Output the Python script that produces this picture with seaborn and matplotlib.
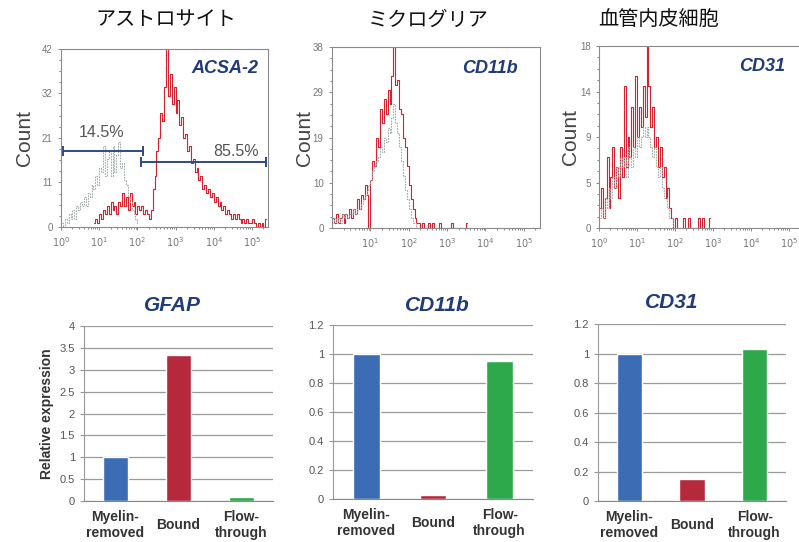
import numpy as np
import pandas as pd
import seaborn as sns
import matplotlib.pyplot as plt
from matplotlib.ticker import AutoMinorLocator, LogLocator, NullFormatter

sns.set_style('ticks')
plt.rcParams['font.family'] = ['Liberation Sans', 'Noto Sans CJK JP', 'DejaVu Sans']

#----------------------------------------------------------
# Flow cytometry histograms (counts per log10 channel bin)
cell_titles = ['アストロサイト', 'ミクログリア', '血管内皮細胞']
surface_markers = ['ACSA-2', 'CD11b', 'CD31']
bin_step = 0.05

acsa_red_start = 0.85
acsa_red = [1, 2, 1, 3, 2, 4, 3, 5, 3, 6, 4, 5, 3, 6, 5, 8, 5, 7, 4, 8,
            5, 6, 3, 5, 4, 5, 3, 4, 3, 2, 4, 9, 12, 18, 21, 27, 25, 33, 42,
            31, 36, 29, 33, 27, 30, 24, 26, 21, 22, 18, 19, 15, 16, 13, 14, 11, 12, 9, 10,
            8, 9, 7, 8, 6, 7, 5, 6, 4, 5, 3, 4, 3, 2, 3, 2, 3, 2, 1, 2,
            1, 2, 1, 1, 2, 1, 0, 1, 0, 1, 0, 2]
acsa_gray_start = 0.0
acsa_gray = [1, 0, 2, 1, 3, 2, 4, 2, 5, 4, 6, 5, 7, 5, 8, 7, 10, 9, 12, 10,
             14, 13, 19, 12, 16, 18, 12, 19, 13, 17, 20, 14, 15, 11, 10, 7, 6, 4, 3, 2, 1]

cd11b_red_start = 0.0
cd11b_red = [2, 1, 3, 1, 2, 3, 1, 3, 2, 4, 2, 4, 3, 6, 4, 7, 6, 9, 7, 0,
             10, 14, 13, 19, 17, 25, 22, 27, 24, 29, 26, 32, 38, 30, 31, 25, 24, 19, 17, 13,
             9, 6, 4, 2, 1, 1, 0, 1, 0, 0, 1, 0, 1, 0, 0, 0, 1, 0, 0, 0,
             0, 0, 1, 0, 0, 0, 0, 0, 0, 0, 1]
cd11b_gray_start = 0.0
cd11b_gray = [1, 2, 1, 2, 1, 3, 2, 3, 2, 3, 3, 4, 3, 4, 4, 5, 6, 7, 8, 9,
              10, 12, 13, 14, 15, 17, 16, 19, 18, 21, 20, 23, 26, 22, 20, 17, 14, 11, 8, 6,
              4, 2, 1, 1, 0]

cd31_red_start = 0.0
cd31_red = [2, 4, 1, 3, 7, 2, 5, 8, 4, 6, 3, 8, 5, 14, 6, 9, 7, 12, 8, 15,
            9, 12, 10, 14, 11, 18, 14, 10, 12, 8, 9, 6, 8, 5, 6, 3, 4, 2, 1, 0,
            1, 0, 0, 0, 1, 0, 0, 1, 0, 0, 0, 0, 1, 0, 1, 0, 0, 0, 1]
cd31_gray_start = 0.0
cd31_gray = [1, 2, 1, 3, 2, 4, 3, 5, 4, 6, 5, 7, 6, 7, 5, 8, 7, 6, 8, 7,
             9, 8, 9, 10, 9, 10, 9, 8, 7, 8, 6, 5, 6, 4, 3, 3, 2, 1, 1, 0]

count_max = [42, 38, 18]
count_ticklabels = [['0', '11', '21', '32', '42'],
                    ['0', '10', '19', '29', '38'],
                    ['0', '5', '9', '14', '18']]
decade_ticks = [[0, 1, 2, 3, 4, 5], [1, 2, 3, 4, 5], [0, 1, 2, 3, 4, 5]]

# ACSA-2 gates
gate_lo = [1.1, 126]
gate_hi = [138, 234000]
gate_y = [17.9, 15.3]
gate_pct = ['14.5%', '85.5%']
pct_x = [11.7, 38000]
pct_y = [22.2, 17.9]

#----------------------------------------------------------
# qPCR relative expression
genes = ['GFAP', 'CD11b', 'CD31']
fractions = ['Myelin-\nremoved', 'Bound', 'Flow-\nthrough']
gfap_expr = [1.0, 3.33, 0.1]
cd11b_expr = [1.0, 0.03, 0.95]
cd31_expr = [1.0, 0.15, 1.03]
expr_max = [4, 1.2, 1.2]
expr_step = [0.5, 0.2, 0.2]

RED = '#d3232f'
GRAY = '#a3abab'
NAVY = '#1f3b7a'
bar_colors = ['#3b6cb4', '#b42a3c', '#2da94b']


def channel_frame(start, counts):
    centres = start + bin_step * (np.arange(len(counts)) + 0.5)
    return pd.DataFrame({'fluor': 10 ** centres, 'count': counts})


fig = plt.figure(figsize=(7.99, 5.42), dpi=100)

hist_rects = [[0.0763, 0.5812, 0.2591, 0.3284],
              [0.4155, 0.5793, 0.2603, 0.3339],
              [0.7497, 0.5793, 0.2578, 0.3358]]
marker_pos = [(0.952, 0.893), (0.894, 0.884), (0.903, 0.885)]
count_label_x = [-0.130, -0.087, -0.092]
title_x = [166, 428, 659]

hist_data = [(acsa_red_start, acsa_red, acsa_gray_start, acsa_gray),
             (cd11b_red_start, cd11b_red, cd11b_gray_start, cd11b_gray),
             (cd31_red_start, cd31_red, cd31_gray_start, cd31_gray)]

for i, (rs, red, gs, gray) in enumerate(hist_data):
    ax = fig.add_axes(hist_rects[i])
    sns.lineplot(data=channel_frame(rs, red), x='fluor', y='count', ax=ax, color=RED,
                 lw=0.8, drawstyle='steps-mid', estimator=None)
    sns.lineplot(data=channel_frame(gs, gray), x='fluor', y='count', ax=ax, color=GRAY,
                 lw=0.8, drawstyle='steps-mid', estimator=None, linestyle=(0, (1.5, 1)))

    ax.set_xscale('log')
    ax.set_xlim(1, 10 ** 5.42)
    ax.set_xticks([10.0 ** d for d in decade_ticks[i]])
    ax.set_xticklabels([f'$10^{{{d}}}$' for d in decade_ticks[i]])
    ax.xaxis.set_minor_locator(LogLocator(base=10, subs=np.arange(2, 10)))
    ax.xaxis.set_minor_formatter(NullFormatter())
    ax.set_ylim(0, count_max[i])
    ax.set_yticks(np.linspace(0, count_max[i], 5))
    ax.set_yticklabels(count_ticklabels[i])
    ax.yaxis.set_minor_locator(AutoMinorLocator(4))
    ax.tick_params(which='both', direction='out', colors='#777777', labelsize=7,
                   length=2.5, width=0.6)
    ax.tick_params(which='minor', length=1.5)
    for s in ax.spines.values():
        s.set_color('#8a8a8a')
        s.set_linewidth(0.8)

    ax.set_xlabel('')
    ax.set_ylabel('Count', fontsize=15, color='#444444')
    ax.yaxis.set_label_coords(count_label_x[i], 0.5)

    ax.text(marker_pos[i][0], marker_pos[i][1], surface_markers[i], transform=ax.transAxes,
            ha='right', va='center', fontsize=13, fontweight='bold', style='italic', color=NAVY)

    fig.text(title_x[i] / 799, 1 - 20 / 542, cell_titles[i], ha='center', va='center',
             fontsize=14.5, color='#111111')

    if i == 0:
        for lo, hi, y in zip(gate_lo, gate_hi, gate_y):
            ax.plot([lo, hi], [y, y], color='#2e4a8b', lw=1.4, marker='|', ms=7, mew=1.4)
        for x, y, t in zip(pct_x, pct_y, gate_pct):
            ax.text(x, y, t, ha='center', va='center', fontsize=11.5, color='#555555')

#----------------------------------------------------------
bar_rects = [[0.1051, 0.0756, 0.2365, 0.3229],
             [0.4168, 0.0793, 0.2503, 0.3210],
             [0.7484, 0.0756, 0.2353, 0.3266]]
gene_title_pos = [(0.466, 1.12), (0.52, 1.115), (0.394, 1.119)]

for i, vals in enumerate([gfap_expr, cd11b_expr, cd31_expr]):
    ax = fig.add_axes(bar_rects[i])
    df = pd.DataFrame({'fraction': fractions, 'expr': vals})
    sns.barplot(data=df, x='fraction', y='expr', hue='fraction', palette=bar_colors,
                width=0.4, saturation=1, legend=False, ax=ax)
    ax.set_ylim(0, expr_max[i])
    ticks = np.arange(0, expr_max[i] + 1e-9, expr_step[i])
    ax.set_yticks(ticks)
    ax.set_yticklabels([f'{t:g}' for t in ticks])
    ax.yaxis.grid(True, color='#9a9a9a', lw=0.9)
    ax.set_axisbelow(True)
    ax.set_xlim(-0.5, 2.5)
    ax.set_xticks(range(len(fractions)))
    ax.set_xticklabels(fractions, va='center', fontweight='bold', fontsize=10, color='#333333')
    ax.tick_params(axis='x', length=0, pad=17)
    ax.tick_params(axis='y', length=3, color='#999999', labelsize=8, labelcolor='#555555')
    sns.despine(ax=ax)
    ax.spines['left'].set_color('#999999')
    ax.spines['bottom'].set_color('#888888')
    ax.set_xlabel('')
    ax.set_ylabel('')
    ax.text(gene_title_pos[i][0], gene_title_pos[i][1], genes[i], transform=ax.transAxes,
            ha='center', va='center', fontsize=15, fontweight='bold', style='italic', color=NAVY)
    if i == 0:
        ax.set_ylabel('Relative expression', fontsize=10, fontweight='bold', color='#333333')

plt.savefig('out.png', dpi=100)
